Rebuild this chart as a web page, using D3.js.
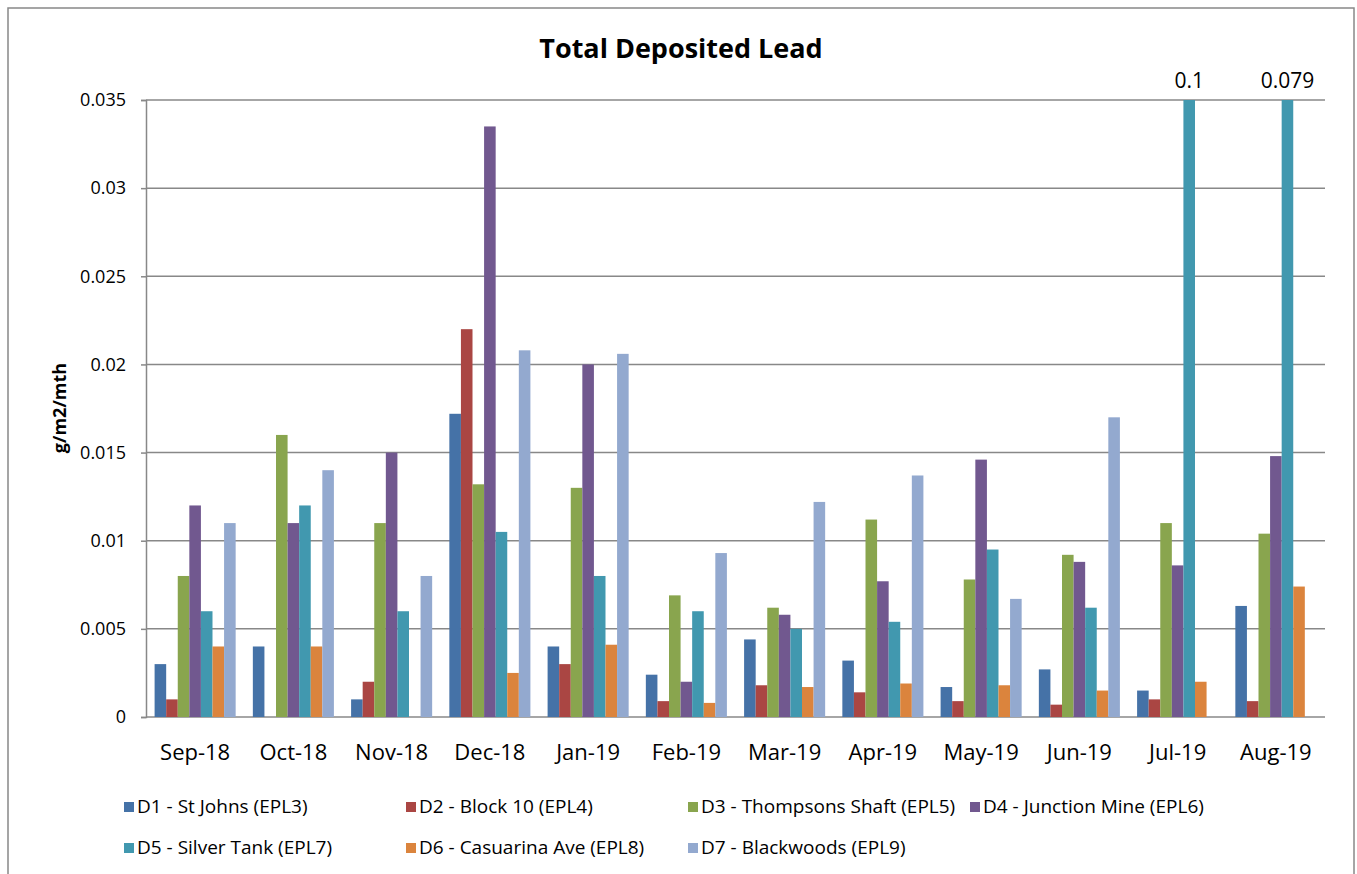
<!DOCTYPE html>
<meta charset="utf-8">
<script src="https://d3js.org/d3.v7.min.js"></script>
<style>
    body { margin: 0; background: #fff; }
    text { font-family: "Open Sans", sans-serif; fill: #000; }
    .title { font-size: 27px; font-weight: bold; }
    .ytitle { font-size: 18px; font-weight: bold; }
    .yaxis text { font-size: 18px; }
    .xlabel { font-size: 22px; }
    .legend text { font-size: 19px; }
    .barlabel { font-size: 21px; }
</style>
<body>
<svg id="chart" width="1357" height="874"></svg>
<script>
// months on the x axis
var months = ["Sep-18", "Oct-18", "Nov-18", "Dec-18", "Jan-19", "Feb-19",
              "Mar-19", "Apr-19", "May-19", "Jun-19", "Jul-19", "Aug-19"];

// sites (legend names)
var sites = ["D1 - St Johns (EPL3)", "D2 - Block 10 (EPL4)", "D3 - Thompsons Shaft (EPL5)",
             "D4 - Junction Mine (EPL6)", "D5 - Silver Tank (EPL7)", "D6 - Casuarina Ave (EPL8)",
             "D7 - Blackwoods (EPL9)"];

// values g/m2/mth, one array per site
var d1 = [0.003, 0.004, 0.001, 0.0172, 0.004, 0.0024, 0.0044, 0.0032, 0.0017, 0.0027, 0.0015, 0.0063];
var d2 = [0.001, 0, 0.002, 0.022, 0.003, 0.0009, 0.0018, 0.0014, 0.0009, 0.0007, 0.001, 0.0009];
var d3v = [0.008, 0.016, 0.011, 0.0132, 0.013, 0.0069, 0.0062, 0.0112, 0.0078, 0.0092, 0.011, 0.0104];
var d4 = [0.012, 0.011, 0.015, 0.0335, 0.020, 0.002, 0.0058, 0.0077, 0.0146, 0.0088, 0.0086, 0.0148];
var d5 = [0.006, 0.012, 0.006, 0.0105, 0.008, 0.006, 0.005, 0.0054, 0.0095, 0.0062, 0.1, 0.079];
var d6 = [0.004, 0.004, 0, 0.0025, 0.0041, 0.0008, 0.0017, 0.0019, 0.0018, 0.0015, 0.002, 0.0074];
var d7 = [0.011, 0.014, 0.008, 0.0208, 0.0206, 0.0093, 0.0122, 0.0137, 0.0067, 0.017, 0, 0];

// y axis ticks
var yTicks = [0, 0.005, 0.01, 0.015, 0.02, 0.025, 0.03, 0.035];

var series = [d1, d2, d3v, d4, d5, d6, d7];
var colors = ["#4572A7", "#AA4643", "#89A54E", "#71588F", "#4198AF", "#DB843D", "#93A9CF"];

var svg = d3.select("#chart");
var plotLeft = 146, plotRight = 1325, plotTop = 100, plotBottom = 717;
var grey = "#888888";

// outer frame
svg.append("rect")
    .attr("x", 8).attr("y", 8)
    .attr("width", 1346).attr("height", 900)
    .attr("fill", "none").attr("stroke", grey).attr("stroke-width", 1.5);

// scales
var yMax = yTicks[yTicks.length - 1];
var y = d3.scaleLinear().domain([0, yMax]).range([plotBottom, plotTop]).clamp(true);
var x0 = d3.scaleBand().domain(months).range([plotLeft, plotRight])
    .paddingInner(0.175).paddingOuter(0.0875);
var x1 = d3.scaleBand().domain(d3.range(sites.length)).range([0, x0.bandwidth()]);

// gridlines
svg.append("g").selectAll("line")
    .data(yTicks.slice(1))
    .enter().append("line")
    .attr("x1", plotLeft).attr("x2", plotRight)
    .attr("y1", d => y(d)).attr("y2", d => y(d))
    .attr("stroke", grey).attr("stroke-width", 1.5);

// y axis
var yAxis = svg.append("g")
    .attr("class", "yaxis")
    .attr("transform", "translate(" + plotLeft + ",0)")
    .call(d3.axisLeft(y).tickValues(yTicks).tickFormat(d3.format(".3~f"))
        .tickSize(5).tickPadding(15));
yAxis.select(".domain").attr("stroke", grey).attr("stroke-width", 1.5);
yAxis.selectAll(".tick line").attr("stroke", grey).attr("stroke-width", 1.5);
yAxis.attr("font-family", null).attr("font-size", null);

// x axis line
svg.append("line")
    .attr("x1", plotLeft).attr("x2", plotRight)
    .attr("y1", plotBottom).attr("y2", plotBottom)
    .attr("stroke", grey).attr("stroke-width", 1.5);

// bars
var groups = svg.append("g").selectAll("g")
    .data(months)
    .enter().append("g")
    .attr("transform", d => "translate(" + x0(d) + ",0)");

groups.selectAll("rect")
    .data((m, i) => series.map((s, k) => ({k: k, v: s[i]})))
    .enter().append("rect")
    .attr("x", d => x1(d.k))
    .attr("width", x1.bandwidth())
    .attr("y", d => y(d.v))
    .attr("height", d => plotBottom - y(d.v))
    .attr("fill", d => colors[d.k]);

// labels for bars that run off the top of the axis
groups.selectAll(".barlabel")
    .data((m, i) => series.map((s, k) => ({k: k, v: s[i]})).filter(d => d.v > yMax))
    .enter().append("text")
    .attr("class", "barlabel")
    .attr("x", d => x1(d.k) + x1.bandwidth() / 2)
    .attr("y", plotTop - 12)
    .attr("text-anchor", "middle")
    .text(d => d.v);

// x labels
svg.append("g").selectAll("text")
    .data(months)
    .enter().append("text")
    .attr("class", "xlabel")
    .attr("x", d => x0(d) + x0.bandwidth() / 2)
    .attr("y", 760)
    .attr("text-anchor", "middle")
    .text(d => d);

// title
svg.append("text")
    .attr("class", "title")
    .attr("x", 681).attr("y", 58)
    .attr("text-anchor", "middle")
    .text("Total Deposited Lead");

// y axis title
svg.append("text")
    .attr("class", "ytitle")
    .attr("transform", "translate(66,408) rotate(-90)")
    .attr("text-anchor", "middle")
    .text("g/m2/mth");

// legend, 4 per row
var legend = svg.append("g").attr("class", "legend").selectAll("g")
    .data(sites)
    .enter().append("g")
    .attr("transform", (d, i) => "translate(" + (124 + (i % 4) * 282) + "," + (807 + Math.floor(i / 4) * 41) + ")");

legend.append("rect")
    .attr("x", 0).attr("y", -5)
    .attr("width", 10).attr("height", 10)
    .attr("fill", (d, i) => colors[i]);

legend.append("text")
    .attr("x", 13).attr("y", 6)
    .text(d => d);
</script>
</body>
</html>
